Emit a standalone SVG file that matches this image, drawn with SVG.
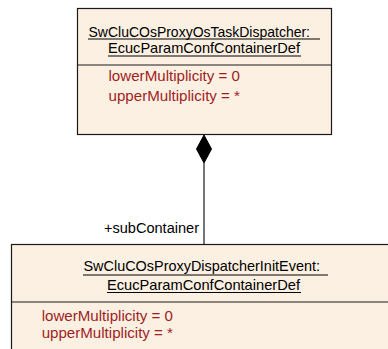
<svg xmlns="http://www.w3.org/2000/svg" width="388" height="349" viewBox="0 0 388 349">
<style>
.box{fill:#FBF0E2;stroke:#1a1a1a;stroke-width:1.2}
.sep{stroke:#1a1a1a;stroke-width:1.2}
.ul{stroke:#000;stroke-width:1}
.title{font-family:"Liberation Sans",Arial,sans-serif;font-size:14.5px;fill:#000}
.attr{font-family:"Liberation Sans",Arial,sans-serif;font-size:14.5px;fill:#A01E1E}
.lbl{font-family:"Liberation Sans",Arial,sans-serif;font-size:14px;fill:#000}
.conn{stroke:#1a1a1a;stroke-width:1.2;fill:none}
</style>
<rect width="388" height="349" fill="#fff"/>
<g id="connectors">
<line class="conn" x1="204" y1="163" x2="204" y2="245"/>
<polygon points="204,135 211.5,149 204,163 196.5,149" fill="#000" stroke="#000" stroke-width="1"/>
<text class="lbl" x="104" y="233" textLength="95" lengthAdjust="spacingAndGlyphs">+subContainer</text>
</g>
<g id="SwCluCOsProxyOsTaskDispatcher">
<rect class="box" x="77.5" y="8.5" width="254" height="126"/>
<line class="sep" x1="77.5" y1="65" x2="331.5" y2="65"/>
<text class="title" x="88.5" y="36.5" textLength="221.5" lengthAdjust="spacingAndGlyphs">SwCluCOsProxyOsTaskDispatcher:</text>
<line class="ul" x1="88" y1="39" x2="320" y2="39"/>
<text class="title" x="108" y="53" textLength="192" lengthAdjust="spacingAndGlyphs">EcucParamConfContainerDef</text>
<line class="ul" x1="108" y1="56" x2="301" y2="56"/>
<text class="attr" x="108.5" y="81" textLength="131.5" lengthAdjust="spacingAndGlyphs">lowerMultiplicity = 0</text>
<text class="attr" x="108.5" y="100.5" textLength="131.5" lengthAdjust="spacingAndGlyphs">upperMultiplicity = *</text>
</g>
<g id="SwCluCOsProxyDispatcherInitEvent">
<rect class="box" x="11.5" y="244.5" width="390" height="120"/>
<line class="sep" x1="11.5" y1="302" x2="401.5" y2="302"/>
<text class="title" x="83.5" y="271" textLength="236.5" lengthAdjust="spacingAndGlyphs">SwCluCOsProxyDispatcherInitEvent:</text>
<line class="ul" x1="83" y1="275" x2="328" y2="275"/>
<text class="title" x="107" y="289.5" textLength="193" lengthAdjust="spacingAndGlyphs">EcucParamConfContainerDef</text>
<line class="ul" x1="107" y1="292.5" x2="301" y2="292.5"/>
<text class="attr" x="41.7" y="321" textLength="131.3" lengthAdjust="spacingAndGlyphs">lowerMultiplicity = 0</text>
<text class="attr" x="41.7" y="337.5" textLength="131.3" lengthAdjust="spacingAndGlyphs">upperMultiplicity = *</text>
</g>
</svg>
